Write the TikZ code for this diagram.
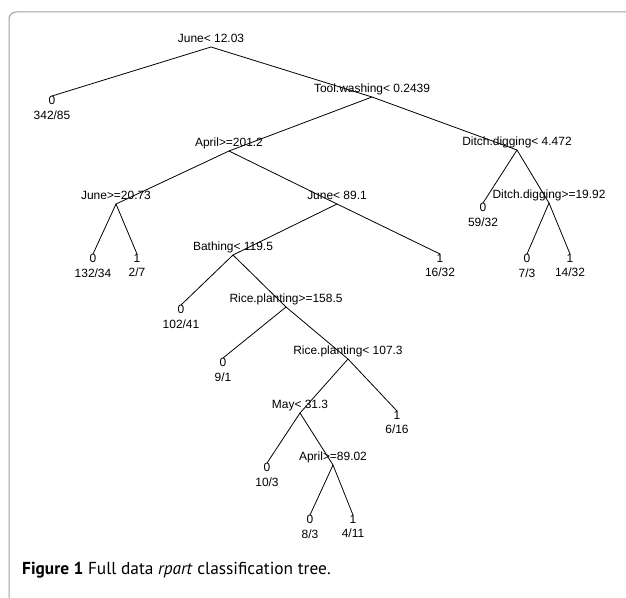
\documentclass[tikz,border=0pt]{standalone}
\usepackage{fontspec}
\setmainfont{Liberation Sans}
\newfontfamily\captionfont{PT Sans}
\usepackage{tikz}
\usetikzlibrary{graphs, positioning}

\tikzset{
    treetext/.style={font=\fontsize{12}{13}\selectfont, inner sep=0pt, text depth=0pt},
    branch/.style={line width=0.8bp, black},
}

\begin{document}
\begin{tikzpicture}[x=1bp, y=-1bp, node distance=4bp]
    \useasboundingbox (0,0) rectangle (626,598);
    \draw[gray!75, line width=1bp, rounded corners=7bp] (626,12) -- (9,12) -- (9,598);

    % split points
    \coordinate (split 0)  at (211,47);
    \coordinate (split 1)  at (372,97);
    \coordinate (split 2)  at (229,151);
    \coordinate (split 3)  at (517,150);
    \coordinate (split 4)  at (116,204);
    \coordinate (split 5)  at (337,204);
    \coordinate (split 6)  at (549,203);
    \coordinate (split 7)  at (233,255);
    \coordinate (split 8)  at (286,307);
    \coordinate (split 9)  at (348,359);
    \coordinate (split 10) at (300,413);
    \coordinate (split 11) at (333,465);

    \node[treetext, above=of split 0]  (rule 0)  {June< 12.03};
    \node[treetext, above=of split 1]  (rule 1)  {Tool.washing< 0.2439};
    \node[treetext, above=of split 2]  (rule 2)  {April>=201.2};
    \node[treetext, above=of split 3]  (rule 3)  {Ditch.digging< 4.472};
    \node[treetext, above=of split 4]  (rule 4)  {June>=20.73};
    \node[treetext, above=of split 5]  (rule 5)  {June< 89.1};
    \node[treetext, above=of split 6]  (rule 6)  {Ditch.digging>=19.92};
    \node[treetext, above=of split 7]  (rule 7)  {Bathing< 119.5};
    \node[treetext, above=of split 8]  (rule 8)  {Rice.planting>=158.5};
    \node[treetext, above=of split 9]  (rule 9)  {Rice.planting< 107.3};
    \node[treetext, above=of split 10] (rule 10) {May< 31.3};
    \node[treetext, above=of split 11] (rule 11) {April>=89.02};

    % leaves
    \coordinate (leaf 1)  at (52,96);
    \coordinate (leaf 2)  at (483,203);
    \coordinate (leaf 3)  at (93,254);
    \coordinate (leaf 4)  at (137,254);
    \coordinate (leaf 5)  at (440,254);
    \coordinate (leaf 6)  at (527,254);
    \coordinate (leaf 7)  at (570,254);
    \coordinate (leaf 8)  at (181,305);
    \coordinate (leaf 9)  at (223,358);
    \coordinate (leaf 10) at (397,411);
    \coordinate (leaf 11) at (267,463);
    \coordinate (leaf 12) at (310,515);
    \coordinate (leaf 13) at (353,515);

    \foreach \n/\c/\m in {1/0/342\slash85, 2/0/59\slash32, 3/0/132\slash34, 4/1/2\slash7,
                          5/1/16\slash32, 6/0/7\slash3, 7/1/14\slash32, 8/0/102\slash41,
                          9/0/9\slash1, 10/1/6\slash16, 11/0/10\slash3, 12/0/8\slash3, 13/1/4\slash11} {
        \node[treetext, anchor=north] (class \n) at (leaf \n) {\c};
        \node[treetext, below=5.5bp of class \n] (count \n) {\m};
    }

    \graph[edges=branch]{
    (split 0) -- (leaf 1);   (split 0) -- (split 1);
    (split 1) -- (split 2);  (split 1) -- (split 3);
    (split 2) -- (split 4);  (split 2) -- (split 5);
    (split 3) -- (leaf 2);   (split 3) -- (split 6);
    (split 4) -- (leaf 3);   (split 4) -- (leaf 4);
    (split 5) -- (split 7);  (split 5) -- (leaf 5);
    (split 6) -- (leaf 6);   (split 6) -- (leaf 7);
    (split 7) -- (leaf 8);   (split 7) -- (split 8);
    (split 8) -- (leaf 9);   (split 8) -- (split 9);
    (split 9) -- (split 10); (split 9) -- (leaf 10);
    (split 10) -- (leaf 11); (split 10) -- (split 11);
    (split 11) -- (leaf 12); (split 11) -- (leaf 13);
    };

    \node[anchor=base west, inner sep=0pt, font=\captionfont\fontsize{17.4}{20}\selectfont] (caption) at (22,574)
        {\textbf{Figure 1} Full data \textit{rpart} classification tree.};
\end{tikzpicture}
\end{document}
